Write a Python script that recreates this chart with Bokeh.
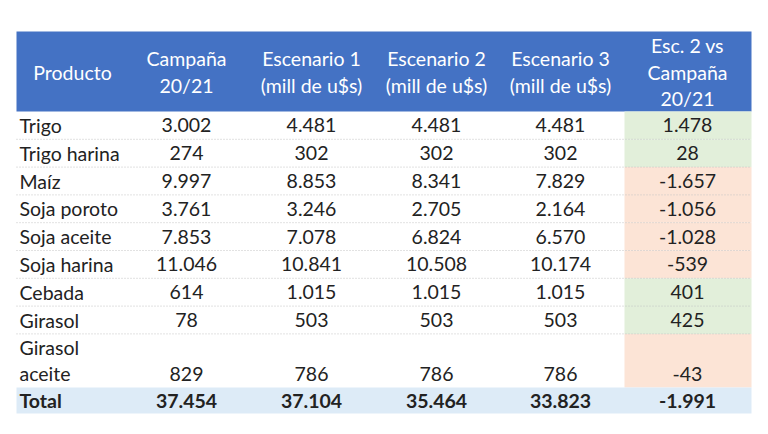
from bokeh.plotting import figure
from bokeh.core.properties import value
from bokeh.embed import file_html
from bokeh.resources import INLINE

# ---- data ----
headers = ["Producto", "Campaña\n20/21", "Escenario 1\n(mill de u$s)",
           "Escenario 2\n(mill de u$s)", "Escenario 3\n(mill de u$s)",
           "Esc. 2 vs\nCampaña\n20/21"]
productos = ["Trigo", "Trigo harina", "Maíz", "Soja poroto", "Soja aceite",
             "Soja harina", "Cebada", "Girasol", "Girasol\naceite"]
campana = [3002, 274, 9997, 3761, 7853, 11046, 614, 78, 829]
escenario1 = [4481, 302, 8853, 3246, 7078, 10841, 1015, 503, 786]
escenario2 = [4481, 302, 8341, 2705, 6824, 10508, 1015, 503, 786]
escenario3 = [4481, 302, 7829, 2164, 6570, 10174, 1015, 503, 786]
diferencia = [1478, 28, -1657, -1056, -1028, -539, 401, 425, -43]
total_label = "Total"
totales = [37454, 37104, 35464, 33823, -1991]

# ---- layout ----
W, H = 752, 418
FONT = "Lato"
FS = "19.5px"
TXT = "#222222"
HEAD_BG = "#4472C4"
POS_BG = "#E2EFDA"
NEG_BG = "#FCE4D6"
TOT_BG = "#DDEBF7"
SEP = "#C4C4C4"

left, right = 16, 751
head_top, head_bot = 31, 111
row_h = 27.8
line_h = 26.5
col_centers = [72, 186, 311, 436, 560, 687]
diff_left = 624
prod_x = 19


def fmt(v):
    return f"{v:,}".replace(",", ".")


p = figure(width=W, height=H, x_range=(0, W), y_range=(H, 0),
           output_backend="svg", toolbar_location=None, min_border=0)
p.axis.visible = False
p.grid.visible = False
p.outline_line_color = None
p.background_fill_color = "white"

# row geometry from data
n = len(productos)
tops, bots = [], []
y = head_bot
for name in productos:
    nl = len(name.split("\n"))
    h = row_h * (1 if nl == 1 else 1.93)
    tops.append(y)
    bots.append(y + h)
    y += h
tot_top, tot_bot = y, y + 26

# header background
p.quad(left=[left], right=[right], top=[head_top], bottom=[head_bot],
       fill_color=HEAD_BG, line_color=None)

# diff column backgrounds
p.quad(left=[diff_left] * n, right=[right] * n, top=tops, bottom=bots,
       fill_color=[POS_BG if d >= 0 else NEG_BG for d in diferencia],
       line_color=None)

# total row background
p.quad(left=[left], right=[right], top=[tot_top], bottom=[tot_bot],
       fill_color=TOT_BG, line_color=None)

# dotted separators (between product rows)
p.segment(x0=[left] * (n - 1), x1=[right] * (n - 1), y0=bots[:-1],
          y1=bots[:-1], line_color=SEP, line_width=1, line_dash="1 2")

# header text
hx, hy, ht = [], [], []
mid = (head_top + head_bot) / 2 + 0.5
for cx, h in zip(col_centers, headers):
    lines = h.split("\n")
    k = len(lines)
    for i, ln in enumerate(lines):
        hx.append(cx)
        hy.append(mid + (i - (k - 1) / 2) * line_h)
        ht.append(ln)
p.text(x=hx, y=hy, text=ht, text_color="white", text_font=value(FONT),
       text_font_size=FS, text_align="center", text_baseline="middle")

# product names
px, py, pt = [], [], []
for name, t, b in zip(productos, tops, bots):
    lines = name.split("\n")
    k = len(lines)
    c = (t + b) / 2
    for i, ln in enumerate(lines):
        px.append(prod_x)
        py.append(c + (i - (k - 1) / 2) * line_h)
        pt.append(ln)
p.text(x=px, y=py, text=pt, text_color=TXT, text_font=value(FONT),
       text_font_size=FS, text_align="left", text_baseline="middle")

# values (bottom line of each row)
vx, vy, vt = [], [], []
for ci, serie in enumerate([campana, escenario1, escenario2, escenario3, diferencia]):
    for name, t, b, v in zip(productos, tops, bots, serie):
        k = len(name.split("\n"))
        c = (t + b) / 2 + (k - 1) / 2 * line_h
        vx.append(col_centers[ci + 1])
        vy.append(c)
        vt.append(fmt(v))
p.text(x=vx, y=vy, text=vt, text_color=TXT, text_font=value(FONT),
       text_font_size=FS, text_align="center", text_baseline="middle")

# total row
tc = (tot_top + tot_bot) / 2
p.text(x=[prod_x], y=[tc], text=[total_label], text_color=TXT,
       text_font=value(FONT), text_font_size=FS, text_font_style="bold",
       text_align="left", text_baseline="middle")
p.text(x=col_centers[1:], y=[tc] * len(totales), text=[fmt(v) for v in totales],
       text_color=TXT, text_font=value(FONT), text_font_size=FS,
       text_font_style="bold", text_align="center", text_baseline="middle")

open("out.html", "w").write(file_html(p, INLINE))
